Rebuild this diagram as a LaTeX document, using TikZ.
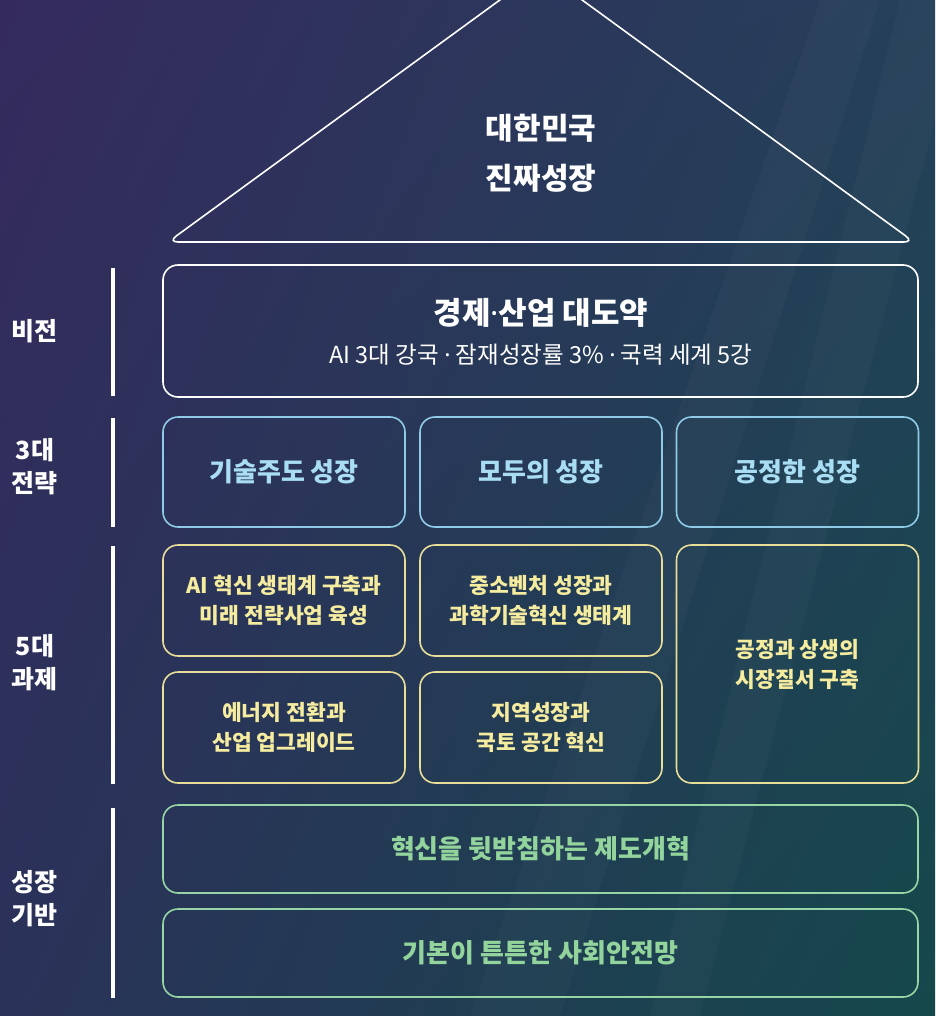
\documentclass[tikz,border=0pt]{standalone}
\usepackage{fontspec}
\setmainfont{Noto Sans CJK KR}
\newfontfamily\dotfont{Noto Sans}
\usepackage{tikz}
\usetikzlibrary{positioning}
\usetikzlibrary{shadings}
\definecolor{bgtl}{HTML}{352A5E}
\definecolor{bgtr}{HTML}{25405A}
\definecolor{bgbl}{HTML}{2A3259}
\definecolor{bgbr}{HTML}{15484B}
\definecolor{stratline}{HTML}{8FCBE6}
\definecolor{strattext}{HTML}{A9DDF3}
\definecolor{taskline}{HTML}{E9DE99}
\definecolor{tasktext}{HTML}{F5EC9F}
\definecolor{baseedge}{HTML}{98D5A6}
\definecolor{basetext}{HTML}{92D49C}
\newcommand\mdot{ {\dotfont·} }
\tikzset{
    panel/.style = {draw,line width=1.6pt,rounded corners=15pt,inner sep=0,anchor=center},
    vis/.style = {panel,draw=white},
    strat/.style = {panel,draw=stratline,text=strattext,font=\fontsize{26}{30}\selectfont\bfseries},
    task/.style = {panel,draw=taskline,text=tasktext,align=center,font=\fontsize{21.5}{30}\selectfont\bfseries},
    found/.style = {panel,draw=baseedge,text=basetext,font=\fontsize{26}{30}\selectfont\bfseries},
    tier/.style = {text=white,align=center,font=\fontsize{25}{33}\selectfont\bfseries},
    bar/.style = {white,line width=4pt},
    streak/.style = {white,opacity=0.025}
}
\begin{document}
\begin{tikzpicture}[x=1pt,y=-1pt]
    \newcommand\colw{242}
    \newcommand\fullw{755}
    % Background
    \useasboundingbox (0,0) rectangle (935,1016);
    \clip (0,0) rectangle (935,1016);
    \shade[upper left=bgtl,upper right=bgtr,lower left=bgbl,lower right=bgbr]
        (0,0) rectangle (935,1016);
    \fill[streak] (820,0) -- (880,0) -- (560,1016) -- (470,1016) -- cycle;
    \fill[streak] (900,0) -- (935,0) -- (935,120) -- (700,1016) -- (650,1016) -- cycle;
    % Roof
    \coordinate (apex) at (541,-30);
    \coordinate (eaveL) at (168,242);
    \coordinate (eaveR) at (914,242);
    \draw[white,line width=1.6pt,rounded corners=10pt]
        (apex) -- (eaveL) -- (eaveR) -- cycle;
    \node[text=white,align=center,font=\fontsize{30}{50}\selectfont\bfseries]
        (roof) at (541,153) {대한민국\\진짜성장};
    % Vision
    \node[vis,minimum width=\fullw,minimum height=132] (vision) at (540.5,331) {};
    \node[text=white,font=\fontsize{31}{34}\selectfont\bfseries] (vtitle) at (541,313) {경제{\dotfont ·}산업 대도약};
    \node[text=white,font=\fontsize{23.5}{28}\selectfont] (vsub) at (541,355) {AI 3대 강국\mdot 잠재성장률 3\%\mdot 국력 세계 5강};
    % Strategies
    \node[strat,minimum width=\colw,minimum height=110] (s1) at (284,472) {기술주도 성장};
    \node[strat,minimum width=\colw,minimum height=110] (s2) at (541,472) {모두의 성장};
    \node[strat,minimum width=\colw,minimum height=110] (s3) at (797.5,472) {공정한 성장};
    % Tasks
    \node[task,minimum width=\colw,minimum height=111] (t1) at (284,600.5) {AI 혁신 생태계 구축과\\미래 전략사업 육성};
    \node[task,minimum width=\colw,minimum height=111] (t2) at (541,600.5) {중소벤처 성장과\\과학기술혁신 생태계};
    \node[task,minimum width=\colw,minimum height=111] (t3) at (284,727.5) {에너지 전환과\\산업 업그레이드};
    \node[task,minimum width=\colw,minimum height=111] (t4) at (541,727.5) {지역성장과\\국토 공간 혁신};
    \node[task,minimum width=\colw,minimum height=238] (t5) at (797.5,664) {공정과 상생의\\시장질서 구축};
    % Foundations
    \node[found,minimum width=\fullw,minimum height=88] (f1) at (540.5,849) {혁신을 뒷받침하는 제도개혁};
    \node[found,minimum width=\fullw,minimum height=88] (f2) at (540.5,953) {기본이 튼튼한 사회안전망};
    % Tier labels
    \node[tier] (lvision) at (35,331) {비전};
    \node[tier] (lstrat) at (35,467) {3대\\전략};
    \node[tier] (ltask) at (35,663) {5대\\과제};
    \node[tier] (lbase) at (35,899) {성장\\기반};
    % Bars
    \foreach \top/\bot in {268/396,418/527,546/784,808/998}
        \draw[bar] (113,\top) -- (113,\bot);
\end{tikzpicture}
\end{document}
